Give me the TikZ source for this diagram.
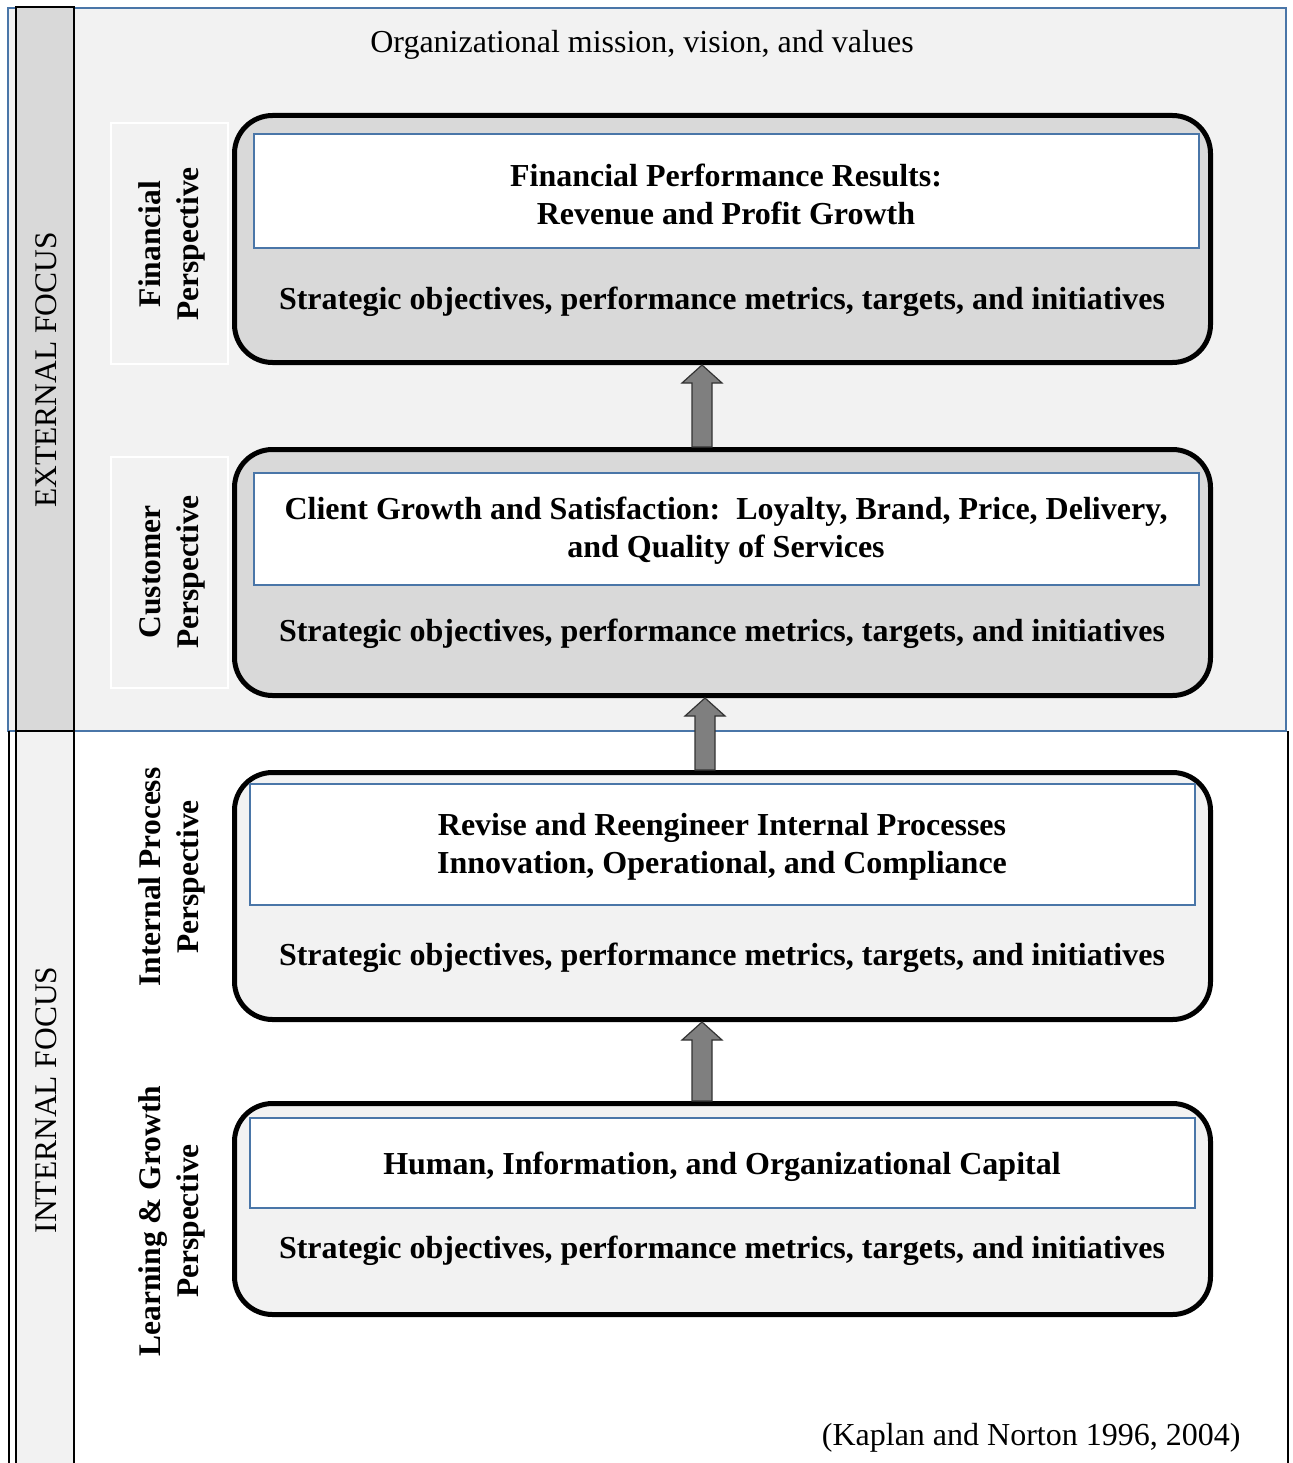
\documentclass[tikz,border=0pt]{standalone}
\usepackage{fontspec}
\setmainfont{Liberation Serif}
\usetikzlibrary{calc}
\definecolor{paleg}{HTML}{F2F2F2}
\definecolor{midg}{HTML}{D9D9D9}
\definecolor{arrg}{HTML}{7F7F7F}
\definecolor{edgeblue}{HTML}{4A76A8}
\tikzset{
  bluebox/.style={draw=edgeblue, line width=1.6pt},
  mainbox/.style={draw=black, line width=5pt, rounded corners=38pt, anchor=north west, inner sep=0pt},
  headbox/.style={draw=edgeblue, line width=1.6pt, fill=white, anchor=north west, inner sep=0pt},
  headtext/.style={font=\fontsize{32}{38}\selectfont\bfseries, align=center},
  stratext/.style={font=\fontsize{32}{38}\selectfont\bfseries},
  persp/.style={rotate=90, align=center, font=\fontsize{31.5}{38}\selectfont\bfseries},
  focus/.style={rotate=90, font=\fontsize{31.5}{36}\selectfont},
  plain/.style={font=\fontsize{32}{36}\selectfont},
  blockarrow/.style={draw=black!80, line width=1.2pt, fill=arrg, line join=miter}
}
\newcommand{\upblock}[2]{%
  \draw[blockarrow] ($(#1)+(-10,0)$) -- ($(#2)+(-10,18)$) -- ($(#2)+(-20,18)$)
    -- (#2) -- ($(#2)+(20,18)$) -- ($(#2)+(10,18)$) -- ($(#1)+(10,0)$) -- cycle;}
\begin{document}
\begin{tikzpicture}[x=1pt,y=-1pt]
\useasboundingbox (0,0) rectangle (1292,1463);
\fill[white] (0,0) rectangle (1292,1463);
% external focus area
\draw[bluebox, fill=paleg] (8,8) rectangle (1286,731);
% internal focus area outline
\draw[black, line width=1.6pt] (9,731) -- (9,1470);
\draw[black, line width=1.6pt] (1288,731) -- (1288,1470);
% focus column
\fill[midg] (16,7) rectangle (74,731);
\fill[paleg] (16,731) rectangle (74,1470);
\draw[black, line width=2pt] (16,1470) -- (16,7) -- (74,7) -- (74,1470);
\draw[black, line width=2pt] (16,731) -- (74,731);
\node[focus] (ext) at (46,370) {EXTERNAL FOCUS};
\node[focus] (int) at (46,1100) {INTERNAL FOCUS};
% perspective labels
\draw[white, line width=2pt, fill=paleg] (111,123) rectangle (228,364);
\draw[white, line width=2pt, fill=paleg] (111,457) rectangle (228,688);
\node[persp] (pf) at (172,244) {Financial\\Perspective};
\node[persp] (pc) at (172,572) {Customer\\Perspective};
\node[persp] (pi) at (172,877) {Internal Process\\Perspective};
\node[persp] (pl) at (172,1221) {Learning \& Growth\\Perspective};
% mission
\node[plain] (mission) at (642,45) {Organizational mission, vision, and values};
% perspective boxes
\node[mainbox, fill=midg, minimum width=976pt, minimum height=247pt] (b1) at (232,113) {};
\node[mainbox, fill=midg, minimum width=976pt, minimum height=246pt] (b2) at (232,447) {};
\node[mainbox, fill=paleg, minimum width=976pt, minimum height=247pt] (b3) at (232,770) {};
\node[mainbox, fill=paleg, minimum width=976pt, minimum height=211pt] (b4) at (232,1101) {};
% headline boxes
\node[headbox, minimum width=945pt, minimum height=114pt] (h1) at (253,133) {};
\node[headbox, minimum width=945pt, minimum height=112pt] (h2) at (253,472) {};
\node[headbox, minimum width=945pt, minimum height=121pt] (h3) at (249,783) {};
\node[headbox, minimum width=945pt, minimum height=90pt] (h4) at (249,1117) {};
\node[headtext] (t1) at (726,194) {Financial Performance Results:\\Revenue and Profit Growth};
\node[headtext] (t2) at (726,531) {Client Growth and Satisfaction:\ \ Loyalty, Brand, Price, Delivery,\\and Quality of Services};
\node[headtext] (t3) at (722,847) {Revise and Reengineer Internal Processes\\Innovation, Operational, and Compliance};
\node[headtext] (t4) at (722,1167) {Human, Information, and Organizational Capital};
\node[stratext] (s1) at (722,302) {Strategic objectives, performance metrics, targets, and initiatives};
\node[stratext] (s2) at (722,634) {Strategic objectives, performance metrics, targets, and initiatives};
\node[stratext] (s3) at (722,958) {Strategic objectives, performance metrics, targets, and initiatives};
\node[stratext] (s4) at (722,1251) {Strategic objectives, performance metrics, targets, and initiatives};
% block arrows between perspectives
\coordinate (a1s) at (b2.north -| 702,0);
\coordinate (a1t) at (b1.south -| 702,0);
\coordinate (a2s) at (b3.north -| 705,0);
\coordinate (a2t) at (b2.south -| 705,0);
\coordinate (a3s) at (b4.north -| 702,0);
\coordinate (a3t) at (b3.south -| 702,0);
\upblock{a1s}{a1t}
\upblock{a2s}{a2t}
\upblock{a3s}{a3t}
% source
\node[plain, anchor=east] (src) at (1244,1438) {(Kaplan and Norton 1996, 2004)};
\end{tikzpicture}
\end{document}
